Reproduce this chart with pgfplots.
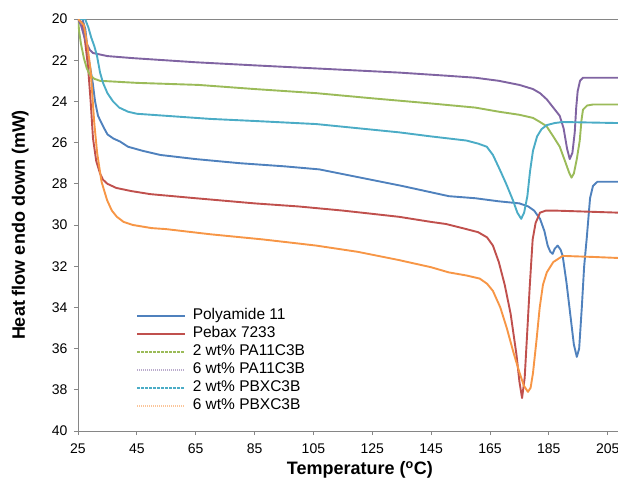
\documentclass[border=0pt]{standalone}
\usepackage{pgfplots}
\pgfplotsset{compat=1.18}
\usepackage{fontspec}
\setmainfont{Liberation Sans}

\definecolor{xlblue}{HTML}{4F81BD}
\definecolor{xlred}{HTML}{C0504D}
\definecolor{xlgreen}{HTML}{9BBB59}
\definecolor{xlpurple}{HTML}{8064A2}
\definecolor{xlaqua}{HTML}{4BACC6}
\definecolor{xlorange}{HTML}{F79646}
\definecolor{xlgray}{HTML}{868686}

% legend sample: a short line in a fixed colour and pattern
\pgfplotsset{
  xlleg/.style 2 args={legend image code/.code={
      \draw[draw=#1, line width=1.6pt, #2] (0pt,0pt) -- (48pt,0pt);
      \path (53pt,0pt);}},
  dsc/.style={line width=1.9pt},
}

\begin{document}
\begin{tikzpicture}
\begin{axis}[
    scale only axis,
    width=540pt, height=412pt,
    xmin=25, xmax=208.5,
    ymin=20, ymax=40,
    y dir=reverse,
    xtick={25,45,...,205},
    ytick={20,22,...,40},
    axis x line=box,
    axis y line=left,
    xtick pos=bottom,
    ytick pos=left,
    tick align=outside,
    major tick length=4pt,
    axis line style={xlgray, line width=0.9pt, -},
    every tick/.style={xlgray, line width=0.9pt},
    tick label style={font=\fontsize{14}{16}\selectfont, black},
    /pgf/number format/assume math mode=true,
    xticklabel style={yshift=-5pt},
    yticklabel style={xshift=-3pt},
    xlabel={Temperature (\textsuperscript{o}C)},
    ylabel={Heat flow endo down (mW)},
    label style={font=\fontsize{18}{20}\selectfont\bfseries},
    xlabel style={at={(axis description cs:0.522,-0.095)}, anchor=center},
    ylabel style={at={(axis description cs:-0.107,0.5)}, anchor=center, rotate=0},
    legend cell align=left,
    legend style={at={(0.108,0.302)}, anchor=north west, draw=none, fill=none,
        inner sep=0pt, row sep=0pt,
        font=\fontsize{15.5}{17}\selectfont,
        nodes={inner sep=1.5pt, text height=11.5pt, text depth=3.5pt}},
    line join=round,
]
% Polyamide 11
\addplot[xlblue, dsc, xlleg={xlblue}{solid}] coordinates {
(25,20) (26.5,20) (27.5,20.5) (28.5,21.8) (30,23.1) (30.8,24.0) (31.8,24.7)
(33.5,25.2) (35,25.6) (37,25.8) (39.3,25.95) (42,26.2) (47,26.4) (53,26.6) (65,26.8)
(80,27.0) (95,27.15) (107,27.3) (121,27.7) (135,28.1) (151,28.6) (160,28.7)
(168,28.85) (175,28.95) (178,29.1) (180,29.3) (182,29.7) (183.5,30.3)
(184.6,31.0) (185.5,31.3) (186.3,31.4) (187,31.15) (188,31.0) (189,31.2)
(189.7,31.5) (191,32.8) (192.5,34.6) (193.5,35.8) (194.5,36.4) (195.3,36.0)
(196.2,34.0) (197,32.0) (197.9,30.6) (199,28.7) (200,28.1) (201.5,27.9)
(208.5,27.9)
};
\addlegendentry{Polyamide 11}
% Pebax 7233
\addplot[xlred, dsc, xlleg={xlred}{solid}] coordinates {
(25,20) (26.5,20.2) (27.5,21.2) (28.4,22.3) (29.3,24) (30.1,25.8) (31.2,26.9)
(32.5,27.5) (33.5,27.8) (35,28.0) (38,28.2) (43,28.35) (49.5,28.5) (65,28.7)
(85,28.95) (100,29.1) (115,29.3) (134,29.6) (145,29.85) (150,29.95)
(157,30.2) (161,30.35) (164,30.6) (166,31.0) (168,31.8) (170,32.9)
(172,34.3) (174,36.3) (175,37.6) (175.9,38.4) (176.8,37.4) (177.5,35.6)
(178.5,33.0) (179.5,30.7) (180.5,29.9) (182,29.4) (184,29.3) (187,29.3)
(208.5,29.4)
};
\addlegendentry{Pebax 7233}
% 2 wt% PA11C3B
\addplot[xlgreen, dsc, xlleg={xlgreen}{dash pattern=on 2.5pt off 1.5pt}] coordinates {
(25,20) (25.4,20.6) (26,21.2) (27,21.9) (28,22.4) (29,22.7) (30.5,22.9) (32.5,23.0)
(45,23.1) (66,23.2) (85,23.4) (106,23.6) (125,23.85) (145,24.1) (160,24.3)
(168,24.5) (175,24.65) (179.6,24.8) (182,25.0) (184.2,25.2) (186.5,25.7)
(188.7,26.2) (190.5,26.9) (192,27.5) (192.7,27.7) (193.5,27.5) (194.5,26.8)
(195.5,25.9) (196.1,24.9) (196.6,24.4) (198,24.2) (200,24.15) (208.5,24.15)
};
\addlegendentry{2 wt\% PA11C3B}
% 6 wt% PA11C3B
\addplot[xlpurple, dsc, xlleg={xlpurple!55}{dash pattern=on 1pt off 1pt}] coordinates {
(25,20) (26,20.3) (27,20.8) (28,21.2) (29,21.5) (30.1,21.65) (35,21.8) (43.7,21.9)
(65,22.1) (85,22.25) (106,22.4) (120,22.5) (134,22.6) (150,22.75)
(160,22.85) (168,23.0) (175,23.2) (179.6,23.4) (182,23.6) (184.3,23.9)
(186.5,24.3) (188.7,24.7) (190,25.3) (191.2,26.3) (192.1,26.8) (193,26.5)
(193.8,25.5) (194.3,24.3) (194.8,23.5) (195.6,23.0) (196.6,22.85)
(208.5,22.85)
};
\addlegendentry{6 wt\% PA11C3B}
% 2 wt% PBXC3B
\addplot[xlaqua, dsc, xlleg={xlaqua}{dash pattern=on 2.5pt off 1.5pt}] coordinates {
(25,20) (27.4,20.0) (28.5,20.4) (29.5,20.9) (30.5,21.3) (31.4,21.75) (32.5,22.6)
(33.5,23.1) (35,23.6) (36.9,24.0) (39,24.3) (42,24.5) (45,24.6) (55,24.7) (70,24.85)
(85,24.95) (106,25.1) (120,25.3) (134,25.5) (145,25.7) (157,25.9)
(161,26.05) (163.9,26.2) (166,26.6) (168.3,27.3) (170.5,28.0) (172.8,28.8)
(174.3,29.4) (175.6,29.7) (176.6,29.4) (177.7,28.6) (178.6,27.4) (179.6,26.4)
(181,25.7) (182.5,25.35) (184.3,25.15) (187,25.05) (189.7,25.0) (208.5,25.05)
};
\addlegendentry{2 wt\% PBXC3B}
% 6 wt% PBXC3B
\addplot[xlorange, dsc, xlleg={xlorange!55}{dash pattern=on 1pt off 1pt}] coordinates {
(25,20) (27,20.3) (28.2,21.3) (29.3,22.5) (30.5,25.0) (31.5,26.5) (33,27.9)
(34.9,28.8) (36.5,29.3) (38.2,29.6) (40.5,29.85) (43.7,30.0) (50,30.15)
(55,30.2) (70,30.45) (87.8,30.7) (100,30.9) (106,31.0) (120,31.3)
(134,31.7) (145,32.05) (151,32.3) (157,32.45) (161.5,32.6) (164,32.85)
(166,33.2) (168.5,34.0) (170.7,35.0) (173,36.2) (175.1,37.2) (176.5,37.8)
(177.9,38.1) (178.8,37.9) (179.6,37.2) (180.8,35.6) (181.9,34.0) (183,32.9)
(184.3,32.3) (186.5,31.8) (189.7,31.5) (200,31.55) (208.5,31.6)
};
\addlegendentry{6 wt\% PBXC3B}
\end{axis}
\pgfresetboundingbox
\path ([xshift=-78pt,yshift=-52pt]current axis.south west) rectangle ([yshift=19pt]current axis.north east);
\end{tikzpicture}
\end{document}
